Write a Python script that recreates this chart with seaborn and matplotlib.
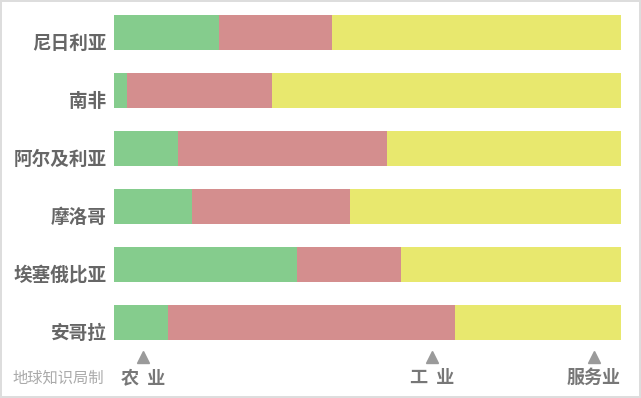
import matplotlib
matplotlib.use("Agg")
import matplotlib.pyplot as plt
import matplotlib.transforms as mtransforms
from matplotlib.lines import Line2D
import seaborn as sns
import pandas as pd

countries = ["尼日利亚", "南非", "阿尔及利亚", "摩洛哥", "埃塞俄比亚", "安哥拉"]
agriculture = [20.7, 2.6, 12.6, 15.4, 36.1, 10.6]
industry = [22.3, 28.6, 41.2, 31.1, 20.6, 56.6]
services = [57.0, 68.8, 46.2, 53.5, 43.3, 32.8]
sector_labels = ["农  业", "工  业", "服务业"]
credit = "地球知识局制"

colors = {"agri": "#85cc8d", "ind": "#d48e8e", "serv": "#e8e86e"}

sns.set_theme(style="white")
plt.rcParams["font.family"] = ["Noto Sans CJK SC", "DejaVu Sans"]

df = pd.DataFrame({
    "country": countries,
    "agri": agriculture,
    "ind": industry,
    "serv": services,
})
df["c1"] = df["agri"]
df["c2"] = df["agri"] + df["ind"]
df["c3"] = df["agri"] + df["ind"] + df["serv"]

W, H = 641, 398
fig = plt.figure(figsize=(W / 100, H / 100), dpi=100)
fig.patch.set_facecolor("white")
fig.patch.set_edgecolor("#dddddd")
fig.patch.set_linewidth(1.5)

left, right = 114, 621
top, bottom = 3.5, 351.5
ax = fig.add_axes([left / W, 1 - bottom / H, (right - left) / W, (bottom - top) / H])

for col, key in [("c3", "serv"), ("c2", "ind"), ("c1", "agri")]:
    sns.barplot(data=df, y="country", x=col, orient="h", color=colors[key],
                width=0.6, saturation=1, ax=ax, linewidth=0)

ax.set_xlim(0, df["c3"].max())
ax.set_ylim(5.5, -0.5)
ax.set_xlabel("")
ax.set_ylabel("")
ax.set_xticks([])
for s in ax.spines.values():
    s.set_visible(False)
ax.tick_params(axis="y", length=0, pad=5.5)
offset = mtransforms.ScaledTranslation(0, -9 / 100, fig.dpi_scale_trans)
for lab in ax.get_yticklabels():
    lab.set_fontsize(13.4)
    lab.set_fontweight("bold")
    lab.set_color("#666666")
    lab.set_transform(lab.get_transform() + offset)

# bottom sector markers
tri_x = [143, 432, 594]
for xp, lab in zip(tri_x, sector_labels):
    fig.add_artist(Line2D([xp / W], [1 - 357 / H], marker="^", markersize=8,
                          color="#9a9a9a", linestyle="none",
                          transform=fig.transFigure))
    fig.text(xp / W, 1 - 377.5 / H, lab, ha="center", va="center",
             fontsize=13, fontweight="bold", color="#777777")

fig.text(12 / W, 1 - 378.5 / H, credit, ha="left", va="center",
         fontsize=11, color="#aaaaaa")

fig.savefig("out.png", dpi=100, facecolor=fig.get_facecolor(),
            edgecolor=fig.get_edgecolor())
